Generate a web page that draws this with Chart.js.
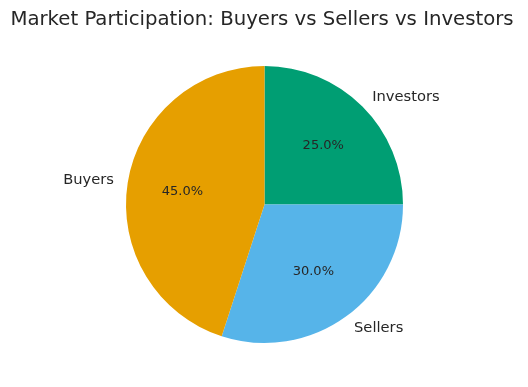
<!DOCTYPE html>
<html>
<head>
<meta charset="utf-8">
<script src="https://cdn.jsdelivr.net/npm/chart.js@4/dist/chart.umd.min.js"></script>
<style>
  html, body { margin: 0; padding: 0; background: #ffffff; }
  #wrap { width: 528px; height: 387px; position: relative; }
</style>
</head>
<body>
<div id="wrap"><canvas id="c" width="528" height="387"></canvas></div>
<script>
// Data (matplotlib order, counter-clockwise from top)
const categories = ["Buyers", "Sellers", "Investors"];
const shares = [45, 30, 25];
const sliceColors = ["#E69F00", "#56B4E9", "#009E73"];
const chartTitle = "Market Participation: Buyers vs Sellers vs Investors";

// Chart.js draws clockwise, so reverse the order to match
const labelsCW = categories.slice().reverse();
const valuesCW = shares.slice().reverse();
const colorsCW = sliceColors.slice().reverse();

const TEXT = "#262626";
const FONT = "'DejaVu Sans', sans-serif";

const pieLabels = {
  id: "pieLabels",
  afterDraw(chart) {
    const ctx = chart.ctx;
    const meta = chart.getDatasetMeta(0);
    const data = chart.data.datasets[0].data;
    const total = data.reduce((a, b) => a + b, 0);
    ctx.save();
    meta.data.forEach((arc, i) => {
      const p = arc.getProps(["x", "y", "startAngle", "endAngle", "outerRadius"], true);
      const mid = (p.startAngle + p.endAngle) / 2;
      const cx = Math.cos(mid), cy = Math.sin(mid);
      // percentage
      ctx.fillStyle = TEXT;
      ctx.font = "13px " + FONT;
      ctx.textAlign = "center";
      ctx.textBaseline = "middle";
      const pct = (data[i] / total * 100).toFixed(1) + "%";
      ctx.fillText(pct, p.x + cx * p.outerRadius * 0.6, p.y + cy * p.outerRadius * 0.6);
      // category label
      ctx.font = "14.7px " + FONT;
      ctx.textAlign = cx >= 0 ? "left" : "right";
      ctx.fillText(chart.data.labels[i], p.x + cx * p.outerRadius * 1.1, p.y + cy * p.outerRadius * 1.1);
    });
    // title
    ctx.font = "19.7px " + FONT;
    ctx.textAlign = "center";
    ctx.textBaseline = "alphabetic";
    ctx.fillStyle = TEXT;
    ctx.fillText(chartTitle, chart.width / 2 - 2, 25);
    ctx.restore();
  }
};

new Chart(document.getElementById("c"), {
  type: "pie",
  data: {
    labels: labelsCW,
    datasets: [{
      data: valuesCW,
      backgroundColor: colorsCW,
      borderWidth: 0,
      hoverOffset: 0
    }]
  },
  options: {
    responsive: false,
    animation: false,
    rotation: 0,
    layout: { padding: { top: 66, bottom: 44, left: 126, right: 125 } },
    plugins: {
      legend: { display: false },
      title: { display: false },
      tooltip: { enabled: false }
    }
  },
  plugins: [pieLabels]
});
</script>
</body>
</html>
